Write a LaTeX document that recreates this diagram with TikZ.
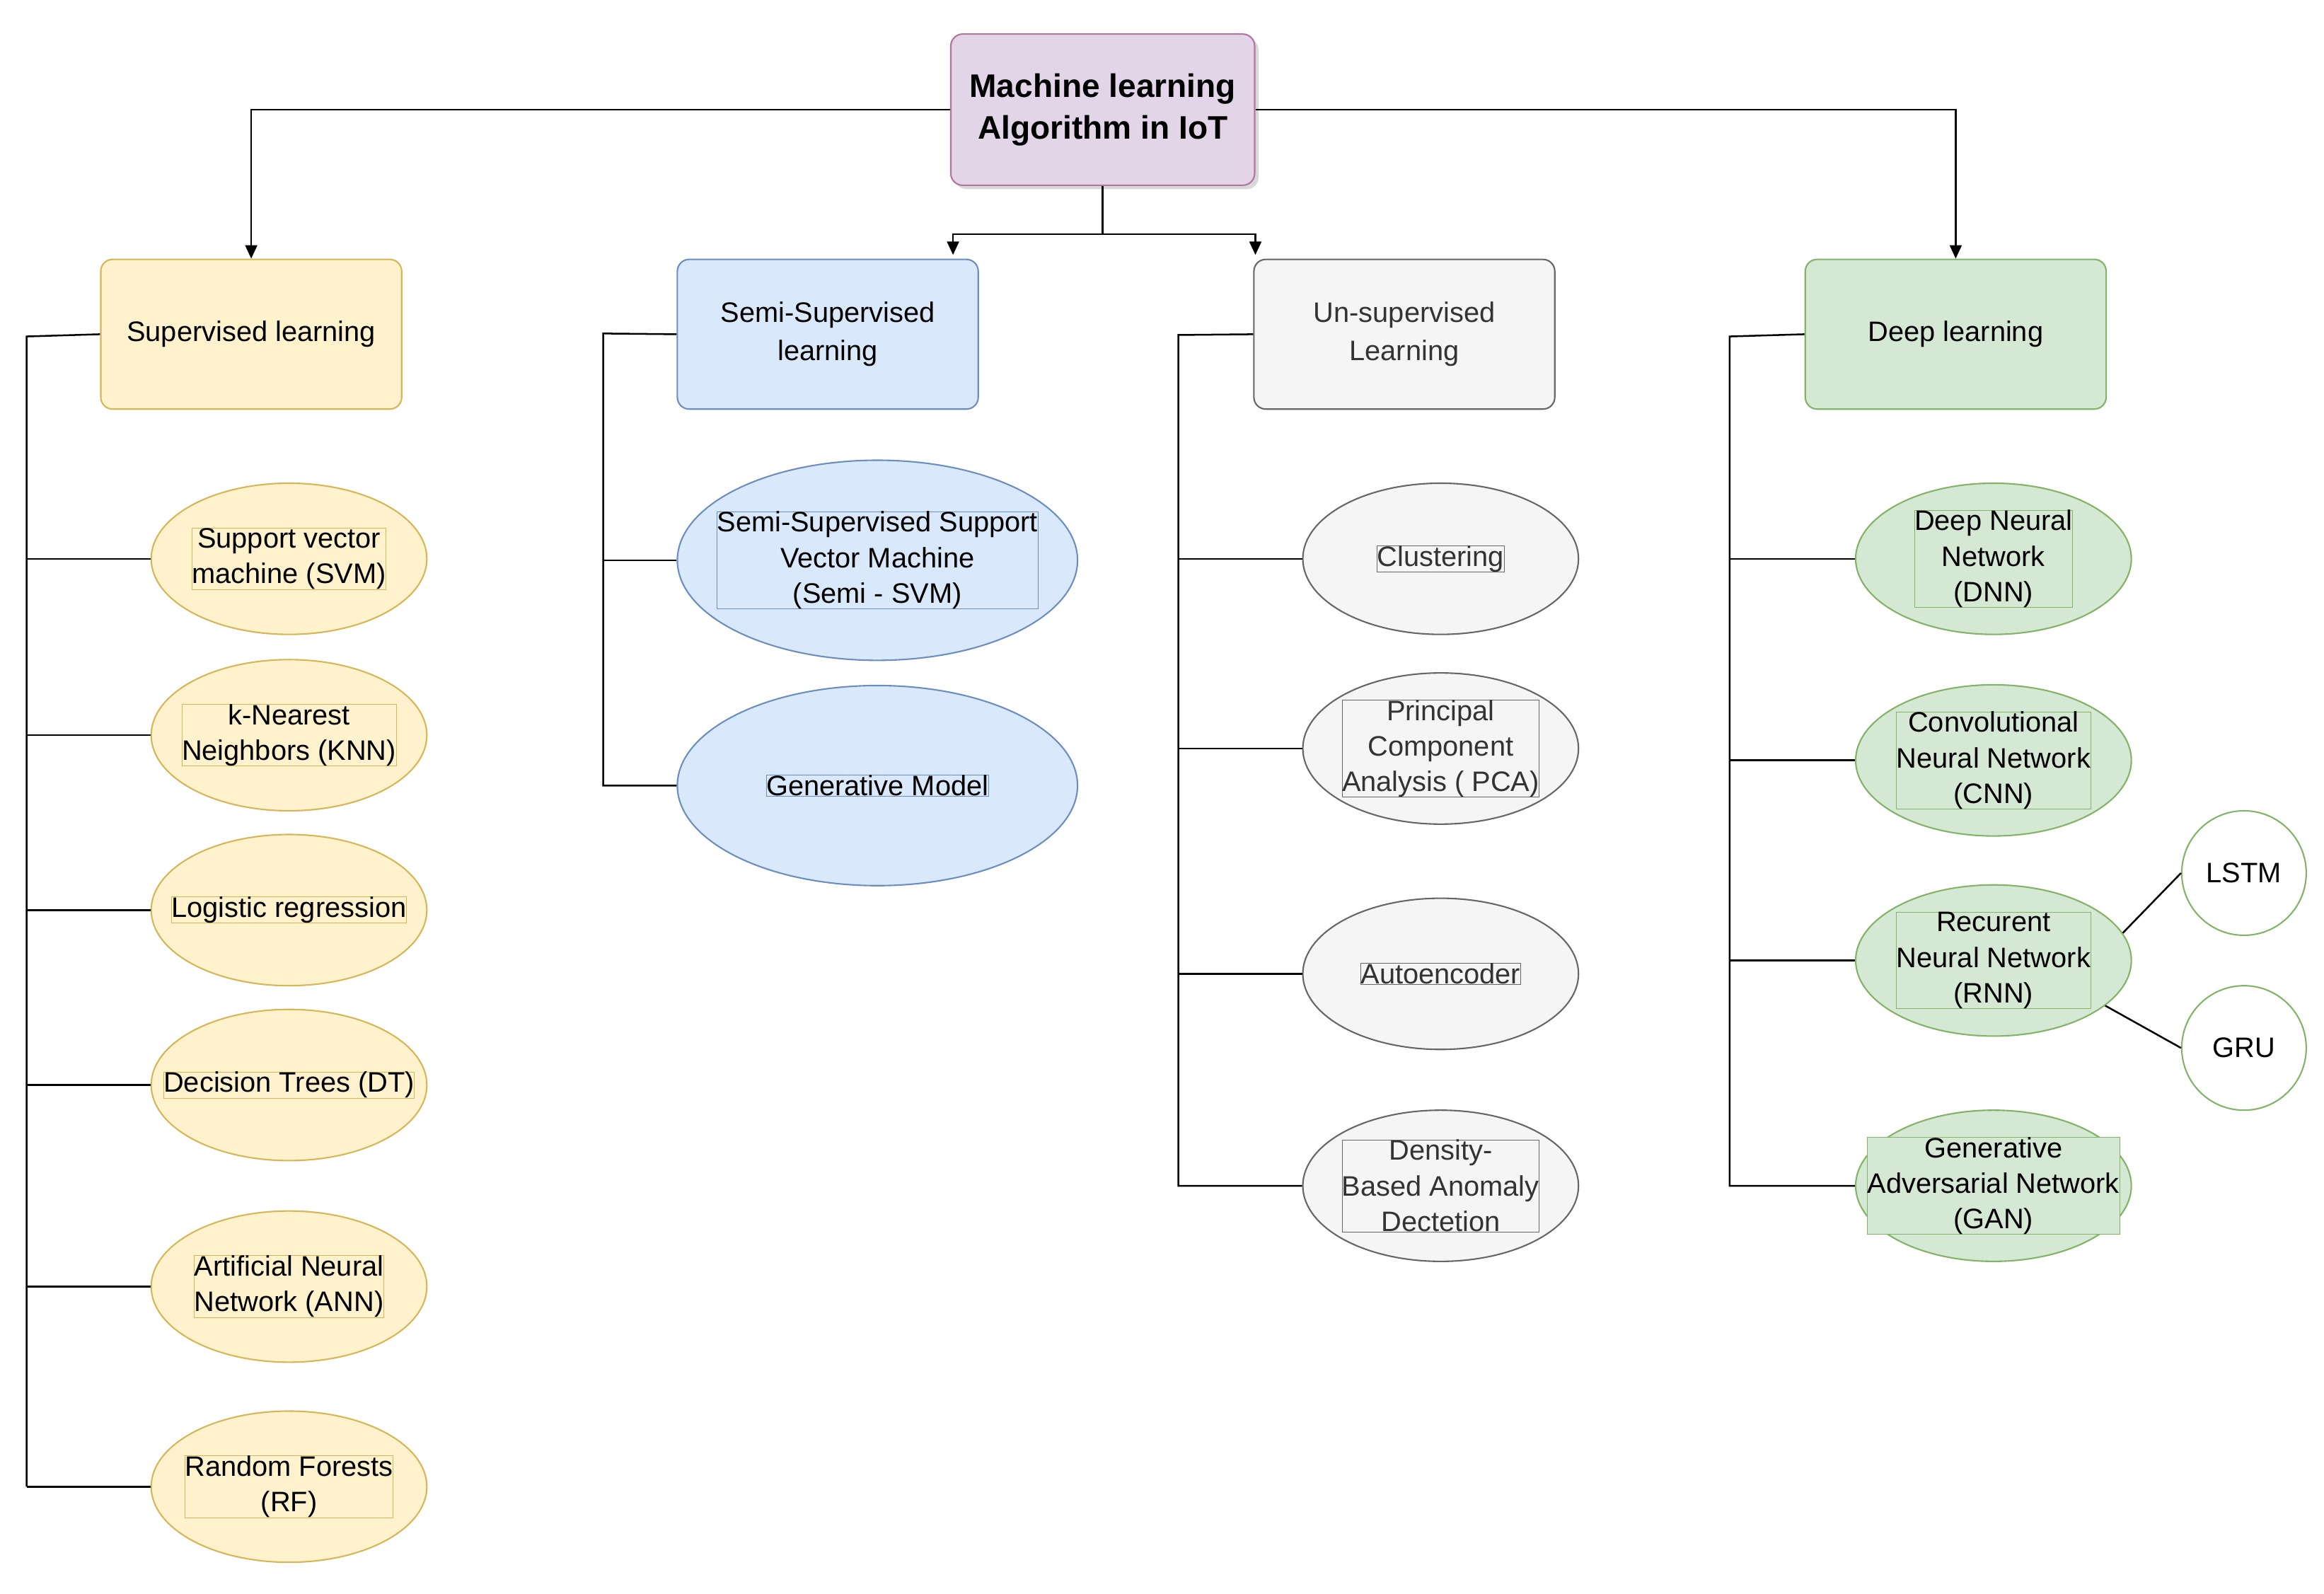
\documentclass[tikz,border=0pt]{standalone}
\usepackage{fontspec}
\setmainfont{Liberation Sans}
\usetikzlibrary{shapes.geometric,arrows.meta,shadows}
\newcommand\myE[5][]{\node[ell,#4,#1] (#2) at (#3) {};\node[txt,#4] at (#2.center) {#5};}
\begin{document}
\begin{tikzpicture}[x=1pt,y=-1pt,
 box/.style={draw,rounded corners=8pt,minimum width=203pt,minimum height=101pt,align=center,font=\fontsize{19}{26}\selectfont,line width=1pt},
 ell/.style={ellipse,draw,minimum width=186pt,minimum height=102pt,inner sep=0pt,line width=1pt},
 txt/.style={align=center,inner sep=0pt,font=\fontsize{19}{24}\selectfont,draw=none,fill=none},
 spv/.style={fill=c1f,draw=c1d},
 sem/.style={fill=c2f,draw=c2d},
 uns/.style={fill=c3f,draw=c3d,text=c3t},
 dep/.style={fill=c4f,draw=c4d},
 ln/.style={line width=1.2pt},
 ar/.style={ln,-{Triangle[length=9pt,width=8pt]}}]
\definecolor{c1f}{HTML}{FFF2CC}\definecolor{c1d}{HTML}{D6B656}
\definecolor{c2f}{HTML}{DAE8FC}\definecolor{c2d}{HTML}{6C8EBF}
\definecolor{c3f}{HTML}{F5F5F5}\definecolor{c3d}{HTML}{666666}\definecolor{c3t}{HTML}{333333}
\definecolor{c4f}{HTML}{D5E8D4}\definecolor{c4d}{HTML}{82B366}
\definecolor{c0f}{HTML}{E1D5E7}\definecolor{c0d}{HTML}{B5739D}
\useasboundingbox[fill=white] (0,0) rectangle (1568,1075);
\node[box,fill=c0f,draw=c0d,minimum width=205pt,minimum height=102pt,font=\fontsize{22}{28}\selectfont\bfseries,drop shadow={opacity=0.3}] (root) at (744,74) {Machine learning\\Algorithm in IoT};
\node[box,spv] (s) at (169.5,225.5) {Supervised learning};
\node[box,sem] (m) at (558.5,225.5) {Semi-Supervised\\learning};
\node[box,uns] (u) at (947.5,225.5) {Un-supervised\\Learning};
\node[box,dep] (d) at (1319.5,225.5) {Deep learning};
\coordinate (c1) at (744,158);
\coordinate (c2) at (643,172);
\coordinate (c3) at (847,172);
\draw[ar] (root.west) -| (s.north);
\draw[ar] (root.east) -| (d.north);
\draw[ln] (root.south) -- (c1);
\draw[ar] (c1) -| (c2);
\draw[ar] (c1) -| (c3);
% supervised
\myE{s1}{195,377}{spv}{Support vector\\machine (SVM)}
\myE{s2}{195,496}{spv}{k-Nearest\\Neighbors (KNN)}
\myE{s3}{195,614}{spv}{Logistic regression}
\myE{s4}{195,732}{spv}{Decision Trees (DT)}
\myE{s5}{195,868}{spv}{Artificial Neural\\Network (ANN)}
\myE{s6}{195,1003}{spv}{Random Forests\\(RF)}
\draw[ln] (s.west) -- (18,227) -- (18,1003);
\foreach \n in {s1,s2,s3,s4,s5,s6}{\draw[ln] (\n.west) -- (18,0 |- \n.west);}
% semi
\myE[minimum width=270pt,minimum height=135pt]{m1}{592,378}{sem}{Semi-Supervised Support\\Vector Machine\\(Semi - SVM)}
\myE[minimum width=270pt,minimum height=135pt]{m2}{592,530}{sem}{Generative Model}
\draw[ln] (m.west) -- (407,225) -- (407,530) -- (m2.west);
\draw[ln] (m1.west) -- (407,378);
% unsup
\myE{u1}{972,377}{uns}{Clustering}
\myE{u2}{972,505}{uns}{Principal\\Component\\Analysis ( PCA)}
\myE{u3}{972,657}{uns}{Autoencoder}
\myE{u4}{972,800}{uns}{Density-\\Based Anomaly\\Dectetion}
\draw[ln] (u.west) -- (795,226) -- (795,800) -- (u4.west);
\foreach \n in {u1,u2,u3}{\draw[ln] (\n.west) -- (795,0 |- \n.west);}
% deep
\myE{d1}{1345,377}{dep}{Deep Neural\\Network\\(DNN)}
\myE{d2}{1345,513}{dep}{Convolutional\\Neural Network\\(CNN)}
\myE{d3}{1345,648}{dep}{Recurent\\Neural Network\\(RNN)}
\myE{d4}{1345,800}{dep}{Generative\\Adversarial Network\\(GAN)}
\draw[ln] (d.west) -- (1167,227) -- (1167,800) -- (d4.west);
\foreach \n in {d1,d2,d3}{\draw[ln] (\n.west) -- (1167,0 |- \n.west);}
\node[circle,draw=c4d,fill=white,line width=1pt,minimum size=84pt,inner sep=0pt,font=\fontsize{19}{23}\selectfont] (l) at (1514,589) {LSTM};
\node[circle,draw=c4d,fill=white,line width=1pt,minimum size=84pt,inner sep=0pt,font=\fontsize{19}{23}\selectfont] (g) at (1514,707) {GRU};
\draw[ln] (d3.12) -- (l.west);
\draw[ln] (d3.-22) -- (g.west);
\end{tikzpicture}
\end{document}
